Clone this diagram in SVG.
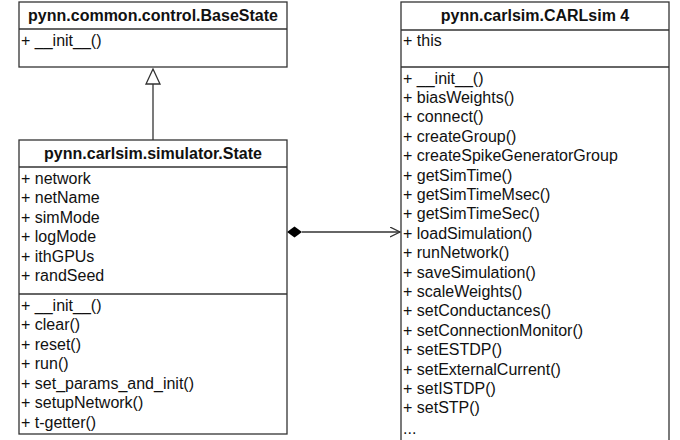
<svg xmlns="http://www.w3.org/2000/svg" width="680" height="440" viewBox="0 0 680 440">
<style>
.box{fill:#fff;stroke:#333;stroke-width:1.3}
.ln{stroke:#333;stroke-width:1.3;fill:none}
.t{font-family:"Liberation Sans",Arial,sans-serif;font-size:16px;fill:#111}
.h{font-family:"Liberation Sans",Arial,sans-serif;font-size:16px;font-weight:bold;fill:#111;text-anchor:middle}
</style>
<defs>
<marker id="open" markerWidth="12" markerHeight="12" refX="10" refY="5" orient="auto" markerUnits="userSpaceOnUse">
<path d="M0,0 L10,5 L0,10" fill="none" stroke="#333" stroke-width="1.3"/>
</marker>
</defs>
<g id="connectors">
<line class="ln" x1="153" y1="84" x2="153" y2="140"/>
<polygon points="153,69 146,84 160,84" fill="#fff" stroke="#333" stroke-width="1.3"/>
<line class="ln" x1="302" y1="232" x2="400" y2="232" marker-end="url(#open)"/>
<polygon points="287,232 294.5,226.5 302,232 294.5,237.5" fill="#000"/>
</g>
<g id="BaseState">
<rect class="box" x="19" y="2" width="268" height="65"/>
<line class="ln" x1="19" y1="29" x2="287" y2="29"/>
<text class="h" x="153" y="21">pynn.common.control.BaseState</text>
<text class="t" x="21" y="46">+ __init__()</text>
</g>
<g id="State">
<rect class="box" x="19" y="140" width="268" height="294"/>
<line class="ln" x1="19" y1="167" x2="287" y2="167"/>
<line class="ln" x1="19" y1="294" x2="287" y2="294"/>
<text class="h" x="153" y="159">pynn.carlsim.simulator.State</text>
<text class="t" x="21" y="183.5">+ network</text>
<text class="t" x="21" y="203">+ netName</text>
<text class="t" x="21" y="222.5">+ simMode</text>
<text class="t" x="21" y="242">+ logMode</text>
<text class="t" x="21" y="261.5">+ ithGPUs</text>
<text class="t" x="21" y="281">+ randSeed</text>
<text class="t" x="21" y="310.5">+ __init__()</text>
<text class="t" x="21" y="330">+ clear()</text>
<text class="t" x="21" y="349.5">+ reset()</text>
<text class="t" x="21" y="369">+ run()</text>
<text class="t" x="21" y="388.5">+ set_params_and_init()</text>
<text class="t" x="21" y="408">+ setupNetwork()</text>
<text class="t" x="21" y="427.5">+ t-getter()</text>
</g>
<g id="CARLsim">
<rect class="box" x="401" y="2" width="268" height="445"/>
<line class="ln" x1="401" y1="30" x2="669" y2="30"/>
<line class="ln" x1="401" y1="67" x2="669" y2="67"/>
<text class="h" x="535" y="21">pynn.carlsim.CARLsim 4</text>
<text class="t" x="403" y="46">+ this</text>
<text class="t" x="403" y="83.5">+ __init__()</text>
<text class="t" x="403" y="102.9">+ biasWeights()</text>
<text class="t" x="403" y="122.3">+ connect()</text>
<text class="t" x="403" y="141.7">+ createGroup()</text>
<text class="t" x="403" y="161.1">+ createSpikeGeneratorGroup</text>
<text class="t" x="403" y="180.5">+ getSimTime()</text>
<text class="t" x="403" y="199.9">+ getSimTimeMsec()</text>
<text class="t" x="403" y="219.3">+ getSimTimeSec()</text>
<text class="t" x="403" y="238.7">+ loadSimulation()</text>
<text class="t" x="403" y="258.1">+ runNetwork()</text>
<text class="t" x="403" y="277.5">+ saveSimulation()</text>
<text class="t" x="403" y="296.9">+ scaleWeights()</text>
<text class="t" x="403" y="316.3">+ setConductances()</text>
<text class="t" x="403" y="335.7">+ setConnectionMonitor()</text>
<text class="t" x="403" y="355.1">+ setESTDP()</text>
<text class="t" x="403" y="374.5">+ setExternalCurrent()</text>
<text class="t" x="403" y="393.9">+ setISTDP()</text>
<text class="t" x="403" y="413.3">+ setSTP()</text>
<text class="t" x="403" y="434">...</text>
</g>
</svg>
